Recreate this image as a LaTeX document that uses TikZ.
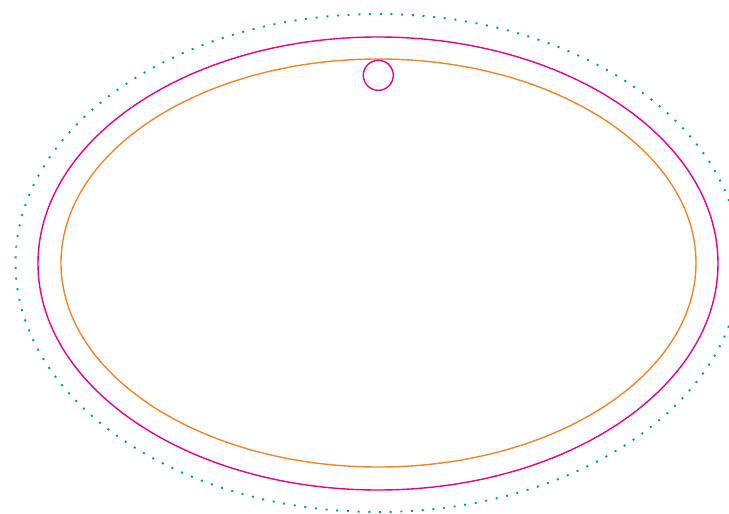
\documentclass[tikz,border=0pt]{standalone}
\definecolor{dotgreen}{HTML}{00A372}
\definecolor{ringmag}{HTML}{E6008A}
\definecolor{ringorange}{HTML}{F0862A}
\tikzset{
  outerdots/.style={draw=dotgreen, line width=1.9pt, dash pattern=on 2pt off 8.7pt},
  magring/.style={draw=ringmag, line width=1.4pt},
  orangering/.style={draw=ringorange, line width=1.4pt},
}
\begin{document}
\begin{tikzpicture}[x=1pt,y=-1pt]
\useasboundingbox (0,0) rectangle (729,514);
\clip (0,0) rectangle (729,514);
\coordinate (c) at (378,263);
\draw[outerdots] (c) ellipse [x radius=362.5, y radius=249];
\draw[magring] (378,263.5) ellipse [x radius=340, y radius=226.5];
\draw[orangering] (378.5,263) ellipse [x radius=317.5, y radius=204];
\node[magring, circle, minimum size=30pt, inner sep=0pt] (knob) at (378.3,75.3) {};
\end{tikzpicture}
\end{document}
